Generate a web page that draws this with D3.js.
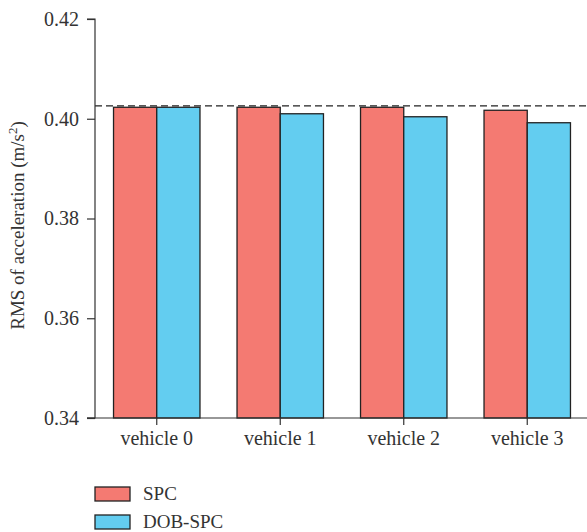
<!DOCTYPE html>
<html>
<head>
<meta charset="utf-8">
<script src="https://cdn.jsdelivr.net/npm/d3@7"></script>
<style>
  body { margin: 0; background: #fff; }
  text { font-family: "Liberation Serif", "DejaVu Serif", serif; fill: #333; }
</style>
</head>
<body>
<svg id="chart" width="587" height="532"></svg>
<script>
var categories = ['vehicle 0', 'vehicle 1', 'vehicle 2', 'vehicle 3'],
	series = ['SPC', 'DOB-SPC'],
	spc = [0.4023, 0.4023, 0.4023, 0.4017],
	dobSpc = [0.4023, 0.4010, 0.4004, 0.3992],
	refLine = 0.4026,
	yTicks = [0.34, 0.36, 0.38, 0.40, 0.42],
	colors = ['#f47a72', '#63cdf0'];

(function () {
	var svg = d3.select('#chart'),
		pl = 95, pr = 589, pt = 19, pb = 418;

	var x = d3.scaleBand().domain(categories).range([pl, pr]).paddingInner(0.3).paddingOuter(0.15);
	var xs = d3.scaleBand().domain(series).range([0, x.bandwidth()]);
	var y = d3.scaleLinear().domain([0.34, 0.42]).range([pb, pt]);

	var rows = categories.map(function (c, i) {
		return { cat: c, vals: [spc[i], dobSpc[i]] };
	});

	// bars
	svg.append('g').selectAll('g')
		.data(rows)
		.enter().append('g')
		.attr('transform', function (d) { return 'translate(' + x(d.cat) + ',0)'; })
		.selectAll('rect')
		.data(function (d) { return d.vals.map(function (v, j) { return { s: series[j], v: v, j: j }; }); })
		.enter().append('rect')
		.attr('x', function (d) { return xs(d.s); })
		.attr('y', function (d) { return y(d.v); })
		.attr('width', xs.bandwidth())
		.attr('height', function (d) { return y(0.34) - y(d.v); })
		.attr('fill', function (d) { return colors[d.j]; })
		.attr('stroke', '#222')
		.attr('stroke-width', 1.3);

	// reference line
	svg.append('line')
		.attr('x1', pl).attr('x2', 587)
		.attr('y1', y(refLine)).attr('y2', y(refLine))
		.attr('stroke', '#222').attr('stroke-width', 1.2)
		.attr('stroke-dasharray', '7,4');

	// axes
	var yAxis = svg.append('g')
		.attr('transform', 'translate(' + pl + ',0)')
		.call(d3.axisLeft(y).tickValues(yTicks).tickFormat(d3.format('.2f')).tickSize(8).tickPadding(8));

	var xAxis = svg.append('g')
		.attr('transform', 'translate(0,' + pb + ')')
		.call(d3.axisBottom(x).tickSize(7).tickPadding(6).tickSizeOuter(0));

	[yAxis, xAxis].forEach(function (a) {
		a.select('.domain').attr('stroke', '#333').attr('stroke-width', 1.2);
		a.selectAll('.tick line').attr('stroke', '#333').attr('stroke-width', 1.2);
		a.selectAll('text').style('font-family', '"Liberation Serif", serif').style('font-size', '20px').attr('fill', '#333');
	});
	yAxis.select('.domain').attr('d', 'M-8,' + pt + 'H0V' + pb + 'H-8');
	xAxis.select('.domain').attr('d', 'M' + (pl - 8) + ',0H587');

	// y label
	svg.append('text')
		.attr('transform', 'translate(24,' + ((pt + pb) / 2 + 7) + ') rotate(-90)')
		.attr('text-anchor', 'middle')
		.style('font-size', '19px')
		.html('RMS of acceleration (m/s<tspan dy="-7" font-size="13px">2</tspan><tspan dy="7">)</tspan>');

	// legend
	var legend = svg.append('g').selectAll('g')
		.data(series)
		.enter().append('g')
		.attr('transform', function (d, i) { return 'translate(95,' + (487 + i * 28) + ')'; });
	legend.append('rect')
		.attr('width', 35).attr('height', 14)
		.attr('fill', function (d, i) { return colors[i]; })
		.attr('stroke', '#222').attr('stroke-width', 1.3);
	legend.append('text')
		.attr('x', 48).attr('y', 13)
		.style('font-size', '19px')
		.text(function (d) { return d; });
})();
</script>
</body>
</html>
